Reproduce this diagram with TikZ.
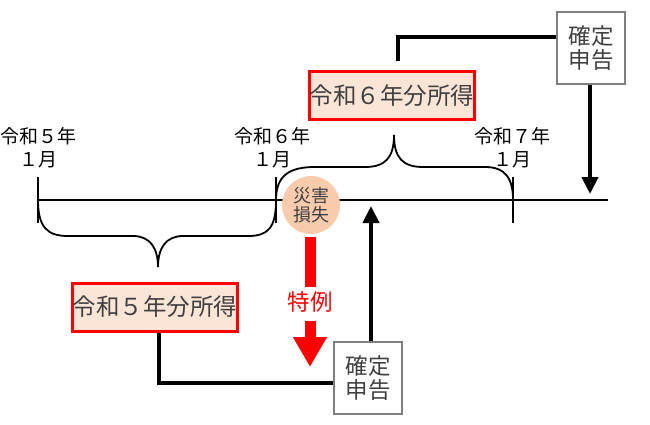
\documentclass[tikz,border=0pt]{standalone}
\usepackage{fontspec}
\setmainfont{Noto Sans CJK JP}
\usetikzlibrary{positioning}
\usetikzlibrary{arrows.meta}
\definecolor{tred}{RGB}{255,0,0}
\definecolor{peach}{RGB}{251,229,214}
\definecolor{lossfill}{RGB}{248,203,173}
\definecolor{boxgray}{RGB}{127,127,127}
\definecolor{txtgray}{RGB}{64,64,64}

\begin{document}
\begin{tikzpicture}[x=1pt, y=-1pt, every node/.style={font=\fontsize{19}{23}\selectfont},
    incbox/.style={draw=tred, line width=3pt, fill=peach, minimum width=164pt, minimum height=48pt, inner sep=0pt, font=\fontsize{23.5}{24}\selectfont, text=txtgray},
    filebox/.style={draw=boxgray, line width=1.5pt, fill=white, minimum width=68pt, minimum height=72pt, inner sep=0pt, align=center, font=\fontsize{22.5}{24.5}\selectfont, text=txtgray},
    conn/.style={line width=4pt},
    bracepath/.style={line width=1.8pt}]
    \useasboundingbox (0,0) rectangle (650,425);
    % timeline and ticks
    \coordinate (t5) at (38,200);
    \coordinate (t6) at (276,200);
    \coordinate (t7) at (513,200);
    \coordinate (tend) at (608,200);
    \draw[line width=1.5pt] (t5) -- (tend);
    \foreach \t in {t5,t6,t7} {
        \draw[line width=1.5pt] ([yshift=23pt]\t) -- ([yshift=-23pt]\t);
    }
    \foreach \n/\d/\x in {5/５/38, 6/６/272, 7/７/512} {
        \node[align=center, inner sep=0pt] (lbl\n) at (\x,148) {令和\d 年\\１月};
    }
    % braces
    \draw[bracepath] (t5) .. controls (38,228) and (48,236) .. (68,236) -- (133,236)
        .. controls (150,236) and (158,248) .. (158,267)
        .. controls (158,248) and (166,236) .. (183,236) -- (248,236)
        .. controls (268,236) and (276,228) .. (t6);
    \draw[bracepath] (t6) .. controls (276,175) and (290,167) .. (315,167) -- (365,167)
        .. controls (385,167) and (394,158) .. (394,135)
        .. controls (394,158) and (403,167) .. (423,167) -- (485,167)
        .. controls (505,167) and (513,178) .. (t7);
    % income boxes
    \node[incbox] (inc5) at (155,307) {令和５年分所得};
    \node[incbox] (inc6) at (392,96) {令和６年分所得};
    % filing boxes
    \node[filebox] (file1) at (368,378) {確定\\申告};
    \node[filebox] (file2) at (591,48) {確定\\申告};
    % disaster loss
    \node[circle, fill=lossfill, minimum size=58pt, inner sep=0pt, align=center,
        font=\fontsize{18}{19.5}\selectfont, text=txtgray] (loss) at (311,205) {災害\\損失};
    \node[text=tred, font=\fontsize{22.5}{24}\selectfont] (tokurei) at (310,302) {特例};
    \coordinate (redtip) at (310,367);
    \draw[tred, line width=11pt, shorten <=3pt, shorten >=1pt] (loss.south -| tokurei) -- (tokurei.north);
    \draw[tred, line width=11pt, shorten <=5pt, -{Triangle[width=32pt,length=30pt]}] (tokurei.south) -- (redtip);
    % connectors
    \coordinate (in6) at (371,206);
    \coordinate (in7) at (590,194);
    \draw[conn] ([xshift=4pt]inc5.south) |- ([yshift=-5pt]file1.west);
    \draw[conn, -{Triangle[width=16pt,length=17pt]}] (file1.north -| in6) -- (in6);
    \draw[conn] ([xshift=6pt,yshift=9pt]inc6.north) |- ([yshift=11pt]file2.west);
    \draw[conn, -{Triangle[width=16pt,length=17pt]}] (file2.south -| in7) -- (in7);
\end{tikzpicture}
\end{document}
